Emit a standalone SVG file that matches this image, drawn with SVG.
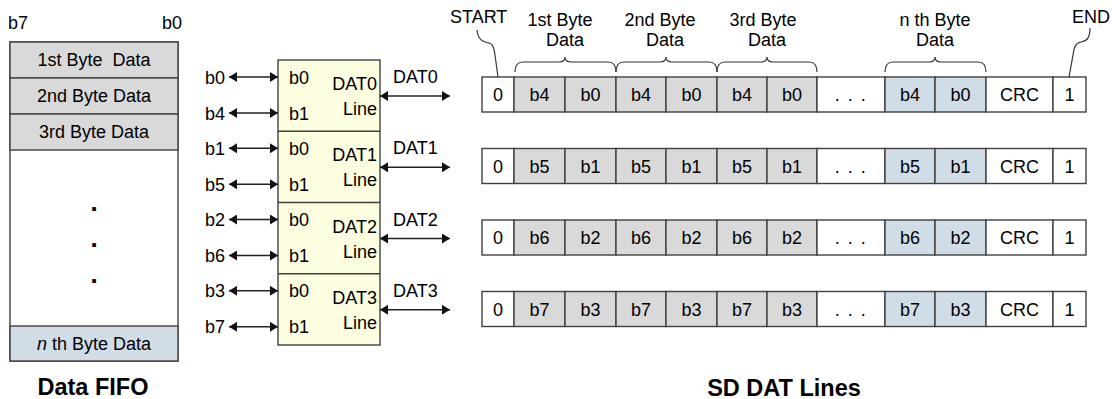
<svg xmlns="http://www.w3.org/2000/svg" width="1112" height="399" viewBox="0 0 1112 399">
<style>
text{font-family:"Liberation Sans",Arial,sans-serif;font-size:18px;fill:#000}
.m{text-anchor:middle}
.e{text-anchor:end}
.t{font-weight:bold;font-size:23.5px}
.d{font-weight:bold;font-size:26px}
.c{stroke:#404040;stroke-width:1.4}
.g{fill:#d9d9d9}
.w{fill:#fff}
.b{fill:#d0dde6}
.y{fill:#fdfde0}
.ln{fill:none;stroke:#333;stroke-width:1.2}
.ar{fill:none;stroke:#222;stroke-width:1.4}
</style>
<defs>
<marker id="ah" viewBox="0 0 8 10" refX="8" refY="5" markerWidth="8" markerHeight="10" markerUnits="userSpaceOnUse" orient="auto-start-reverse"><path d="M0,0 L8,5 L0,10 z" fill="#111"/></marker>
</defs>

<g id="fifo">
<rect class="c w" x="10" y="42" width="168" height="319"/>
<rect class="c g" x="10" y="42" width="168" height="36"/>
<rect class="c g" x="10" y="78" width="168" height="36"/>
<rect class="c g" x="10" y="114" width="168" height="36"/>
<rect class="c b" x="10" y="326" width="168" height="35"/>
<text x="8" y="29">b7</text>
<text x="182" y="29" class="e">b0</text>
<text x="94" y="66" class="m" xml:space="preserve">1st Byte  Data</text>
<text x="94" y="102" class="m">2nd Byte Data</text>
<text x="94" y="138" class="m">3rd Byte Data</text>
<text x="94" y="211" class="m d">.</text>
<text x="94" y="247" class="m d">.</text>
<text x="94" y="283" class="m d">.</text>
<text x="94" y="350" class="m"><tspan font-style="italic">n</tspan> th Byte Data</text>
<text x="93" y="395" class="m t">Data FIFO</text>
</g>

<g id="dat-block">
<rect class="c y" x="278" y="60" width="102" height="285"/>
<line class="c" x1="278" y1="131.3" x2="380" y2="131.3"/>
<line class="c" x1="278" y1="202.5" x2="380" y2="202.5"/>
<line class="c" x1="278" y1="273.8" x2="380" y2="273.8"/>
<g id="dat0-line">
<text x="205" y="83.5">b0</text><text x="205" y="119.5">b4</text>
<text x="289" y="83.5">b0</text><text x="289" y="119.5">b1</text>
<text x="377" y="90" class="e">DAT0</text><text x="377" y="115" class="e">Line</text>
<text x="393" y="83">DAT0</text>
</g>
<g id="dat1-line">
<text x="205" y="154.8">b1</text><text x="205" y="190.8">b5</text>
<text x="289" y="154.8">b0</text><text x="289" y="190.8">b1</text>
<text x="377" y="161.3" class="e">DAT1</text><text x="377" y="186.3" class="e">Line</text>
<text x="393" y="154.3">DAT1</text>
</g>
<g id="dat2-line">
<text x="205" y="226">b2</text><text x="205" y="262">b6</text>
<text x="289" y="226">b0</text><text x="289" y="262">b1</text>
<text x="377" y="232.5" class="e">DAT2</text><text x="377" y="257.5" class="e">Line</text>
<text x="393" y="225.5">DAT2</text>
</g>
<g id="dat3-line">
<text x="205" y="297.3">b3</text><text x="205" y="333.3">b7</text>
<text x="289" y="297.3">b0</text><text x="289" y="333.3">b1</text>
<text x="377" y="303.8" class="e">DAT3</text><text x="377" y="328.8" class="e">Line</text>
<text x="393" y="296.8">DAT3</text>
</g>
</g>

<g id="row0">
<rect class="c w" x="482" y="77" width="32" height="35"/>
<rect class="c g" x="514" y="77" width="51" height="35"/><rect class="c g" x="565" y="77" width="51" height="35"/>
<rect class="c g" x="616" y="77" width="50" height="35"/><rect class="c g" x="666" y="77" width="51" height="35"/>
<rect class="c g" x="717" y="77" width="50" height="35"/><rect class="c g" x="767" y="77" width="50" height="35"/>
<rect class="c w" x="817" y="77" width="68" height="35"/>
<rect class="c b" x="885" y="77" width="50" height="35"/><rect class="c b" x="935" y="77" width="51" height="35"/>
<rect class="c w" x="986" y="77" width="67" height="35"/><rect class="c w" x="1053" y="77" width="33" height="35"/>
<text class="m" x="498" y="101">0</text>
<text class="m" x="539.5" y="101">b4</text><text class="m" x="590.5" y="101">b0</text>
<text class="m" x="641" y="101">b4</text><text class="m" x="691.5" y="101">b0</text>
<text class="m" x="742" y="101">b4</text><text class="m" x="792" y="101">b0</text>
<text class="m" x="851" y="101" letter-spacing="1.5" xml:space="preserve">. . .</text>
<text class="m" x="910" y="101">b4</text><text class="m" x="960.5" y="101">b0</text>
<text class="m" x="1019.5" y="101">CRC</text><text class="m" x="1069.5" y="101">1</text>
</g>

<g id="row1">
<rect class="c w" x="482" y="148.5" width="32" height="35"/>
<rect class="c g" x="514" y="148.5" width="51" height="35"/><rect class="c g" x="565" y="148.5" width="51" height="35"/>
<rect class="c g" x="616" y="148.5" width="50" height="35"/><rect class="c g" x="666" y="148.5" width="51" height="35"/>
<rect class="c g" x="717" y="148.5" width="50" height="35"/><rect class="c g" x="767" y="148.5" width="50" height="35"/>
<rect class="c w" x="817" y="148.5" width="68" height="35"/>
<rect class="c b" x="885" y="148.5" width="50" height="35"/><rect class="c b" x="935" y="148.5" width="51" height="35"/>
<rect class="c w" x="986" y="148.5" width="67" height="35"/><rect class="c w" x="1053" y="148.5" width="33" height="35"/>
<text class="m" x="498" y="172.5">0</text>
<text class="m" x="539.5" y="172.5">b5</text><text class="m" x="590.5" y="172.5">b1</text>
<text class="m" x="641" y="172.5">b5</text><text class="m" x="691.5" y="172.5">b1</text>
<text class="m" x="742" y="172.5">b5</text><text class="m" x="792" y="172.5">b1</text>
<text class="m" x="851" y="172.5" letter-spacing="1.5" xml:space="preserve">. . .</text>
<text class="m" x="910" y="172.5">b5</text><text class="m" x="960.5" y="172.5">b1</text>
<text class="m" x="1019.5" y="172.5">CRC</text><text class="m" x="1069.5" y="172.5">1</text>
</g>

<g id="row2">
<rect class="c w" x="482" y="220" width="32" height="35"/>
<rect class="c g" x="514" y="220" width="51" height="35"/><rect class="c g" x="565" y="220" width="51" height="35"/>
<rect class="c g" x="616" y="220" width="50" height="35"/><rect class="c g" x="666" y="220" width="51" height="35"/>
<rect class="c g" x="717" y="220" width="50" height="35"/><rect class="c g" x="767" y="220" width="50" height="35"/>
<rect class="c w" x="817" y="220" width="68" height="35"/>
<rect class="c b" x="885" y="220" width="50" height="35"/><rect class="c b" x="935" y="220" width="51" height="35"/>
<rect class="c w" x="986" y="220" width="67" height="35"/><rect class="c w" x="1053" y="220" width="33" height="35"/>
<text class="m" x="498" y="244">0</text>
<text class="m" x="539.5" y="244">b6</text><text class="m" x="590.5" y="244">b2</text>
<text class="m" x="641" y="244">b6</text><text class="m" x="691.5" y="244">b2</text>
<text class="m" x="742" y="244">b6</text><text class="m" x="792" y="244">b2</text>
<text class="m" x="851" y="244" letter-spacing="1.5" xml:space="preserve">. . .</text>
<text class="m" x="910" y="244">b6</text><text class="m" x="960.5" y="244">b2</text>
<text class="m" x="1019.5" y="244">CRC</text><text class="m" x="1069.5" y="244">1</text>
</g>

<g id="row3">
<rect class="c w" x="482" y="291.5" width="32" height="35"/>
<rect class="c g" x="514" y="291.5" width="51" height="35"/><rect class="c g" x="565" y="291.5" width="51" height="35"/>
<rect class="c g" x="616" y="291.5" width="50" height="35"/><rect class="c g" x="666" y="291.5" width="51" height="35"/>
<rect class="c g" x="717" y="291.5" width="50" height="35"/><rect class="c g" x="767" y="291.5" width="50" height="35"/>
<rect class="c w" x="817" y="291.5" width="68" height="35"/>
<rect class="c b" x="885" y="291.5" width="50" height="35"/><rect class="c b" x="935" y="291.5" width="51" height="35"/>
<rect class="c w" x="986" y="291.5" width="67" height="35"/><rect class="c w" x="1053" y="291.5" width="33" height="35"/>
<text class="m" x="498" y="315.5">0</text>
<text class="m" x="539.5" y="315.5">b7</text><text class="m" x="590.5" y="315.5">b3</text>
<text class="m" x="641" y="315.5">b7</text><text class="m" x="691.5" y="315.5">b3</text>
<text class="m" x="742" y="315.5">b7</text><text class="m" x="792" y="315.5">b3</text>
<text class="m" x="851" y="315.5" letter-spacing="1.5" xml:space="preserve">. . .</text>
<text class="m" x="910" y="315.5">b7</text><text class="m" x="960.5" y="315.5">b3</text>
<text class="m" x="1019.5" y="315.5">CRC</text><text class="m" x="1069.5" y="315.5">1</text>
</g>

<g id="labels">
<text x="450" y="23">START</text>
<text x="1072" y="23">END</text>
<text class="m" x="560" y="26">1st Byte</text><text class="m" x="565" y="46">Data</text>
<text class="m" x="660" y="26">2nd Byte</text><text class="m" x="665" y="46">Data</text>
<text class="m" x="763" y="26">3rd Byte</text><text class="m" x="767" y="46">Data</text>
<text class="m" x="935" y="26">n th Byte</text><text class="m" x="935" y="46">Data</text>
<text x="784" y="396" class="m t">SD DAT Lines</text>
</g>

<g id="connectors">
<line class="ar" x1="229" y1="77" x2="278" y2="77" marker-start="url(#ah)" marker-end="url(#ah)"/>
<line class="ar" x1="229" y1="113" x2="278" y2="113" marker-start="url(#ah)" marker-end="url(#ah)"/>
<line class="ar" x1="229" y1="148.3" x2="278" y2="148.3" marker-start="url(#ah)" marker-end="url(#ah)"/>
<line class="ar" x1="229" y1="184.3" x2="278" y2="184.3" marker-start="url(#ah)" marker-end="url(#ah)"/>
<line class="ar" x1="229" y1="219.5" x2="278" y2="219.5" marker-start="url(#ah)" marker-end="url(#ah)"/>
<line class="ar" x1="229" y1="255.5" x2="278" y2="255.5" marker-start="url(#ah)" marker-end="url(#ah)"/>
<line class="ar" x1="229" y1="290.8" x2="278" y2="290.8" marker-start="url(#ah)" marker-end="url(#ah)"/>
<line class="ar" x1="229" y1="326.8" x2="278" y2="326.8" marker-start="url(#ah)" marker-end="url(#ah)"/>
<line class="ar" x1="380" y1="96" x2="450" y2="96" marker-start="url(#ah)" marker-end="url(#ah)"/>
<line class="ar" x1="380" y1="167.3" x2="450" y2="167.3" marker-start="url(#ah)" marker-end="url(#ah)"/>
<line class="ar" x1="380" y1="238.5" x2="450" y2="238.5" marker-start="url(#ah)" marker-end="url(#ah)"/>
<line class="ar" x1="380" y1="309.8" x2="450" y2="309.8" marker-start="url(#ah)" marker-end="url(#ah)"/>
<path class="ln" d="M515,72 Q515,62 523,62 L559,62 Q565,62 565,57 Q565,62 571,62 L608,62 Q616,62 616,72"/>
<path class="ln" d="M616,72 Q616,62 624,62 L660,62 Q666,62 666,57 Q666,62 672,62 L709,62 Q717,62 717,72"/>
<path class="ln" d="M717,72 Q717,62 725,62 L761,62 Q767,62 767,57 Q767,62 773,62 L809,62 Q817,62 817,72"/>
<path class="ln" d="M885,72 Q885,62 893,62 L929,62 Q935,62 935,57 Q935,62 941,62 L978,62 Q986,62 986,72"/>
<path class="ln" d="M477,30 C478,40 483,42 489,43 C494,44 494,50 495,55 L498,77"/>
<path class="ln" d="M1090,28 C1090,38 1087,41 1081,42 C1075,43 1074,48 1073,55 L1069,77"/>
</g>
</svg>
